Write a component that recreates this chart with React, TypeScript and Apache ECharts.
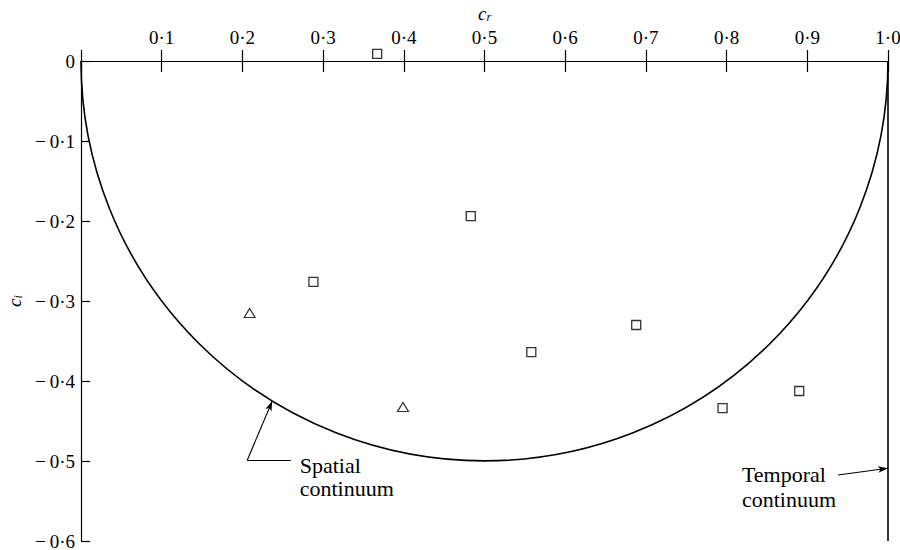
import React, { useEffect, useRef } from "react";
import * as echarts from "echarts";

// c_r / c_i measurements
const squarePoints: number[][] = [
  [0.367, 0.009],
  [0.483, -0.194],
  [0.288, -0.276],
  [0.558, -0.364],
  [0.688, -0.33],
  [0.795, -0.434],
  [0.89, -0.4125],
];
const trianglePoints: number[][] = [
  [0.209, -0.315],
  [0.399, -0.4325],
];
// spatial continuum: circle centre (c_r, c_i) and radius
const spatialCircle: number[][] = [[0.5, 0, 0.5]];
// temporal continuum at c_r = 1
const temporalX = 1.0;

const xTicks = [0, 0.1, 0.2, 0.3, 0.4, 0.5, 0.6, 0.7, 0.8, 0.9, 1.0];
const yTicks = [0, -0.1, -0.2, -0.3, -0.4, -0.5, -0.6];

// annotation anchors (data coordinates)
const spatialArrow: number[][] = [
  [0.26, -0.499],
  [0.206, -0.499],
  [0.237, -0.425],
];
const temporalArrow: number[][] = [
  [0.938, -0.5175],
  [1.0, -0.509],
];
const spatialText = { pos: [0.271, -0.491], lines: ["Spatial", "continuum"] };
const temporalText = { pos: [0.819, -0.50125], lines: ["Temporal", "continuum"] };

const SERIF = '"Liberation Serif", "DejaVu Serif", serif';

const fmt = (v: number) => {
  const r = Math.round(v * 10) / 10;
  if (r === 0) return "0";
  const s = Math.abs(r).toFixed(1).replace(".", "\u00B7");
  return r < 0 ? "\u2212\u2009" + s : s;
};

export default function App() {
  const ref = useRef<HTMLDivElement>(null);

  useEffect(() => {
    if (!ref.current) return;
    const chart = echarts.init(ref.current, undefined, { renderer: "svg" });

    const xCommon = {
      type: "value" as const,
      min: xTicks[0],
      max: xTicks[xTicks.length - 1],
      interval: 0.1,
      splitLine: { show: false },
    };

    const nameRich = {
      i: { fontFamily: SERIF, fontStyle: "italic", fontSize: 19, color: "#000" },
      s: { fontFamily: SERIF, fontStyle: "italic", fontSize: 12, color: "#000", verticalAlign: "bottom", padding: [8, 0, 0, 0] },
    };

    const option: any = {
      animation: false,
      backgroundColor: "#fff",
      textStyle: { fontFamily: SERIF, color: "#000" },
      grid: { left: 81, right: 12, top: 61, bottom: 9, containLabel: false, outerBoundsMode: "none" },
      xAxis: [
        {
          ...xCommon,
          position: "top",
          name: "{i|c}{s|r}",
          nameLocation: "middle",
          nameGap: 36,
          nameTextStyle: { color: "#000", rich: nameRich },
          axisLine: { show: true, onZero: false, lineStyle: { color: "#000", width: 1.2 } },
          axisTick: { show: true, inside: false, length: 11, lineStyle: { color: "#000", width: 1.2 } },
          axisLabel: {
            show: true,
            margin: 14,
            fontFamily: SERIF,
            fontSize: 19,
            color: "#000",
            formatter: (v: number) => (Math.abs(v) < 1e-9 ? "" : fmt(v)),
          },
        },
        {
          ...xCommon,
          position: "bottom",
          axisLine: { show: false, onZero: true },
          axisTick: { show: true, inside: false, length: 11, lineStyle: { color: "#000", width: 1.2 } },
          axisLabel: { show: false },
        },
      ],
      yAxis: {
        type: "value",
        min: yTicks[yTicks.length - 1],
        max: yTicks[0],
        interval: 0.1,
        position: "left",
        name: "{i|c}{s|i}",
        nameLocation: "middle",
        nameRotate: 90,
        nameGap: 57,
        nameTextStyle: { color: "#000", rich: nameRich },
        splitLine: { show: false },
        axisLine: { show: true, onZero: false, lineStyle: { color: "#000", width: 1.2 } },
        axisTick: { show: true, inside: true, length: 9, lineStyle: { color: "#000", width: 1.2 } },
        axisLabel: {
          margin: 6,
          fontFamily: SERIF,
          fontSize: 19,
          color: "#000",
          formatter: (v: number) => fmt(v),
        },
      },
      series: [
        {
          type: "custom",
          name: "Spatial continuum",
          xAxisIndex: 0,
          yAxisIndex: 0,
          silent: true,
          clip: false,
          data: spatialCircle,
          renderItem: (params: any, api: any) => {
            const c = api.coord([api.value(0), api.value(1)]);
            const sz = api.size([api.value(2), api.value(2)]);
            const rx = sz[0];
            const ry = sz[1];
            return {
              type: "group",
              x: c[0],
              y: c[1],
              scaleY: ry / rx,
              children: [
                {
                  type: "arc",
                  shape: { cx: 0, cy: 0, r: rx, startAngle: 0, endAngle: Math.PI, clockwise: true },
                  style: { stroke: "#000", fill: "none", lineWidth: 1.6, strokeNoScale: true },
                },
              ],
            };
          },
          markLine: {
            silent: true,
            animation: false,
            symbol: ["none", "none"],
            label: { show: false },
            lineStyle: { color: "#000", width: 1.6, type: "solid" },
            data: [{ xAxis: temporalX }],
          },
        },
        {
          type: "scatter",
          name: "squares",
          xAxisIndex: 0,
          yAxisIndex: 0,
          clip: false,
          symbol: "rect",
          symbolSize: 9,
          itemStyle: { color: "#fff", borderColor: "#000", borderWidth: 1.3 },
          data: squarePoints,
          markLine: {
            silent: true,
            animation: false,
            label: { show: false },
            lineStyle: { color: "#000", width: 1.1, type: "solid" },
            data: [
              [
                { coord: spatialArrow[0], symbol: "none" },
                { coord: spatialArrow[1], symbol: "none" },
              ],
              [
                { coord: spatialArrow[1], symbol: "none" },
                { coord: spatialArrow[2], symbol: "arrow", symbolSize: [5, 10] },
              ],
              [
                { coord: temporalArrow[0], symbol: "none" },
                { coord: temporalArrow[1], symbol: "arrow", symbolSize: [5, 10] },
              ],
            ],
          },
        },
        {
          type: "scatter",
          name: "triangles",
          xAxisIndex: 0,
          yAxisIndex: 0,
          clip: false,
          symbol: "triangle",
          symbolSize: [11, 9],
          itemStyle: { color: "#fff", borderColor: "#000", borderWidth: 1.2 },
          data: trianglePoints,
        },
      ],
    };

    chart.setOption(option);

    const toPx = (p: number[]) => chart.convertToPixel({ seriesIndex: 1 }, p) as number[];
    const sp = toPx(spatialText.pos);
    const tp = toPx(temporalText.pos);
    chart.setOption({
      graphic: [
        {
          type: "text",
          x: sp[0],
          y: sp[1],
          silent: true,
          style: {
            text: spatialText.lines.join("\n"),
            font: `22px ${SERIF}`,
            fill: "#000",
            lineHeight: 23,
            verticalAlign: "top",
            align: "left",
          },
        },
        {
          type: "text",
          x: tp[0],
          y: tp[1],
          silent: true,
          style: {
            text: temporalText.lines.join("\n"),
            font: `22px ${SERIF}`,
            fill: "#000",
            lineHeight: 25,
            verticalAlign: "top",
            align: "left",
          },
        },
      ],
    });

    return () => chart.dispose();
  }, []);

  return <div ref={ref} style={{ width: 900, height: 550, position: "fixed", left: 0, top: 0 }} />;
}
